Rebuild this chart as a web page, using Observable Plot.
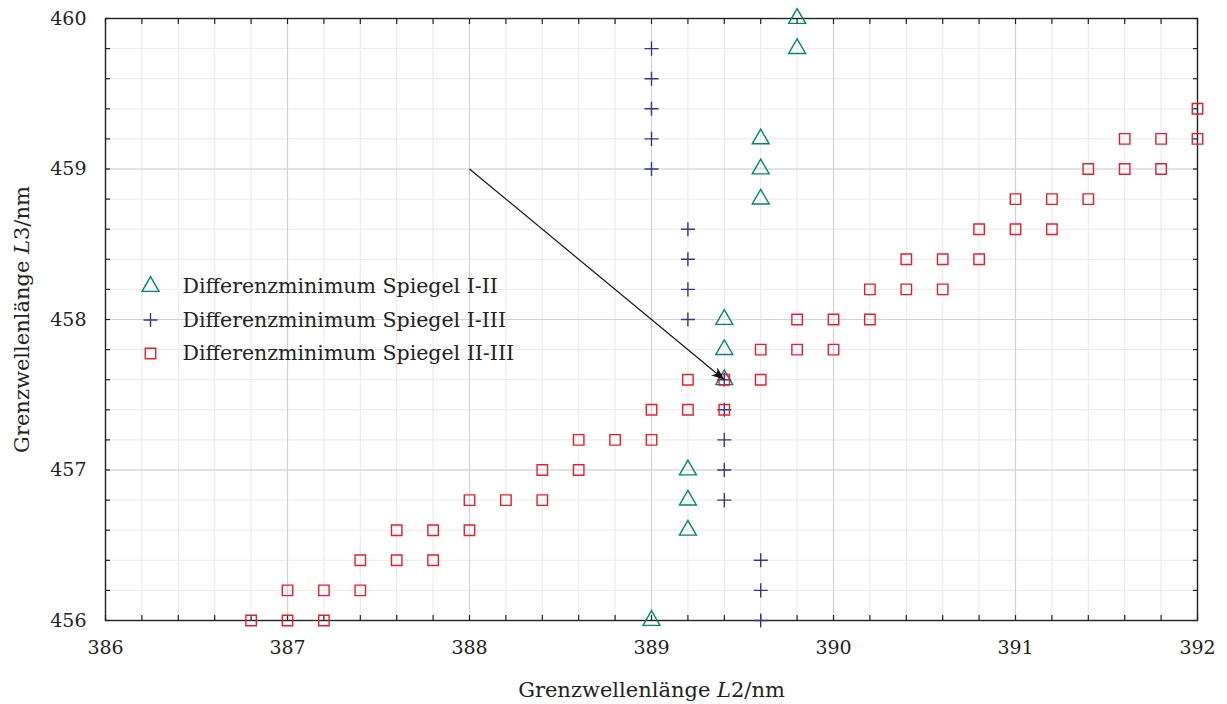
<!DOCTYPE html>
<html>
<head>
<meta charset="utf-8">
<script src="https://cdn.jsdelivr.net/npm/d3@7"></script>
<script src="https://cdn.jsdelivr.net/npm/@observablehq/plot@0.6"></script>
<style>
  html, body { margin: 0; padding: 0; background: #fff; }
  #chart svg { display: block; }
  #chart svg, #chart svg text { font-family: "DejaVu Serif", serif !important; }
</style>
</head>
<body>
<div id="chart"></div>
<script>
// Series labels
const seriesNames = [
  "Differenzminimum Spiegel I-II",
  "Differenzminimum Spiegel I-III",
  "Differenzminimum Spiegel II-III"
];

// Differenzminimum Spiegel I-II (L2 / L3 in nm)
const L2_I_II = [389.8, 389.8, 389.6, 389.6, 389.6, 389.4, 389.4, 389.4, 389.2, 389.2, 389.2, 389.0];
const L3_I_II = [460.0, 459.8, 459.2, 459.0, 458.8, 458.0, 457.8, 457.6, 457.0, 456.8, 456.6, 456.0];

// Differenzminimum Spiegel I-III
const L2_I_III = [389.0, 389.0, 389.0, 389.0, 389.0, 389.2, 389.2, 389.2, 389.2,
                  389.4, 389.4, 389.4, 389.4, 389.4, 389.6, 389.6, 389.6];
const L3_I_III = [459.8, 459.6, 459.4, 459.2, 459.0, 458.6, 458.4, 458.2, 458.0,
                  457.6, 457.4, 457.2, 457.0, 456.8, 456.4, 456.2, 456.0];

// Differenzminimum Spiegel II-III
const L2_II_III = [386.8, 387.0, 387.2, 387.0, 387.2, 387.4, 387.4, 387.6, 387.8,
                   387.6, 387.8, 388.0, 388.0, 388.2, 388.4, 388.4, 388.6, 388.6,
                   388.8, 389.0, 389.0, 389.2, 389.4, 389.2, 389.4, 389.6, 389.6,
                   389.8, 390.0, 389.8, 390.0, 390.2, 390.2, 390.4, 390.6, 390.4,
                   390.6, 390.8, 390.8, 391.0, 391.2, 391.0, 391.2, 391.4, 391.4,
                   391.6, 391.8, 391.6, 391.8, 392.0, 392.0];
const L3_II_III = [456.0, 456.0, 456.0, 456.2, 456.2, 456.2, 456.4, 456.4, 456.4,
                   456.6, 456.6, 456.6, 456.8, 456.8, 456.8, 457.0, 457.0, 457.2,
                   457.2, 457.2, 457.4, 457.4, 457.4, 457.6, 457.6, 457.6, 457.8,
                   457.8, 457.8, 458.0, 458.0, 458.0, 458.2, 458.2, 458.2, 458.4,
                   458.4, 458.4, 458.6, 458.6, 458.6, 458.8, 458.8, 458.8, 459.0,
                   459.0, 459.0, 459.2, 459.2, 459.2, 459.4];

// Annotation arrow (from / to, in data units)
const arrowFrom = [388.0, 459.0];
const arrowTo = [389.4, 457.6];

// Axis ticks
const xMajor = [386, 387, 388, 389, 390, 391, 392];
const yMajor = [456, 457, 458, 459, 460];
const xMinor = d3.range(0, 31).map(i => +(386 + i * 0.2).toFixed(1));
const yMinor = d3.range(0, 21).map(i => +(456 + i * 0.2).toFixed(1));

const xLabel = "Grenzwellenlänge L2/nm";
const yLabel = "Grenzwellenlänge L3/nm";

const colors = ["#00876c", "#34349a", "#ec1c2c"];
const symbols = ["triangle", "plus", "square"];
const radii = [6.3, 4.6, 5.9];

const toPoints = (xs, ys) => xs.map((x, i) => ({x, y: ys[i]}));
const seriesData = [
  toPoints(L2_I_II, L3_I_II),
  toPoints(L2_I_III, L3_I_III),
  toPoints(L2_II_III, L3_II_III)
];

// Filled, pointed arrowhead
function stealth(color) {
  const m = d3.create("svg:marker")
    .attr("viewBox", "-13 -6 14 12")
    .attr("markerWidth", 14)
    .attr("markerHeight", 12)
    .attr("markerUnits", "userSpaceOnUse")
    .attr("orient", "auto")
    .attr("fill", color)
    .attr("stroke", "none");
  m.append("path").attr("d", "M-13,-5L0,0L-13,5L-9.5,0Z");
  return m.node();
}

const tickFS = 19;
const legendFS = 20.5;
const titleFS = 21;

const legendMarks = seriesNames.flatMap((name, i) => [
  Plot.dot([name], {
    frameAnchor: "top-left", dx: 45, dy: 268 + i * 33.5,
    symbol: symbols[i], r: radii[i], stroke: colors[i], strokeWidth: 1.4, fill: "none"
  }),
  Plot.text([name], {
    frameAnchor: "top-left", dx: 77, dy: 268 + i * 33.5,
    textAnchor: "start", lineAnchor: "middle", fontSize: legendFS, fill: "#222"
  })
]);

const chart = Plot.plot({
  width: 1227,
  height: 704,
  marginLeft: 105,
  marginRight: 30,
  marginTop: 18,
  marginBottom: 84,
  x: {domain: [386, 392], label: null},
  y: {domain: [456, 460], label: null},
  style: {fontFamily: "DejaVu Serif, serif", fontSize: tickFS + "px", color: "#222", background: "#fff"},
  marks: [
    // minor and major grid
    Plot.gridX(xMinor, {stroke: "#e9e9e9", strokeOpacity: 1, strokeWidth: 1}),
    Plot.gridY(yMinor, {stroke: "#e9e9e9", strokeOpacity: 1, strokeWidth: 1}),
    Plot.gridX(xMajor, {stroke: "#d2d2d2", strokeOpacity: 1, strokeWidth: 1.2}),
    Plot.gridY(yMajor, {stroke: "#d2d2d2", strokeOpacity: 1, strokeWidth: 1.2}),
    // inward ticks on all four sides
    Plot.axisX(xMinor, {anchor: "bottom", tickSize: -5, tickFormat: () => "", stroke: "#222", strokeWidth: 1.2}),
    Plot.axisX(xMinor, {anchor: "top", tickSize: -5, tickFormat: () => "", stroke: "#222", strokeWidth: 1.2}),
    Plot.axisY(yMinor, {anchor: "left", tickSize: -5, tickFormat: () => "", stroke: "#222", strokeWidth: 1.2}),
    Plot.axisY(yMinor, {anchor: "right", tickSize: -5, tickFormat: () => "", stroke: "#222", strokeWidth: 1.2}),
    // tick labels
    Plot.axisX(xMajor, {anchor: "bottom", tickSize: 0, tickPadding: 20, tickFormat: d => String(d), fontSize: tickFS}),
    Plot.axisY(yMajor, {anchor: "left", tickSize: 0, tickPadding: 19, tickFormat: d => String(d), fontSize: tickFS}),
    Plot.frame({stroke: "#222", strokeWidth: 1.4}),
    // data
    ...seriesData.map((data, i) => Plot.dot(data, {
      x: "x", y: "y", symbol: () => symbols[i], r: radii[i],
      stroke: colors[i], strokeWidth: 1.4, fill: "none"
    })),
    // annotation arrow
    Plot.link([{x1: arrowFrom[0], y1: arrowFrom[1], x2: arrowTo[0], y2: arrowTo[1]}], {
      x1: "x1", y1: "y1", x2: "x2", y2: "y2", stroke: "#111", strokeWidth: 1.2, markerEnd: stealth
    }),
    // legend
    ...legendMarks,
    // axis titles
    Plot.text([xLabel], {frameAnchor: "bottom", dy: 70, textAnchor: "middle", lineAnchor: "middle", fontSize: titleFS, fill: "#222", className: "axis-title"}),
    Plot.text([yLabel], {frameAnchor: "left", dx: -83, rotate: -90, textAnchor: "middle", lineAnchor: "middle", fontSize: titleFS, fill: "#222", className: "axis-title"})
  ]
});

// Serif face on every label
d3.select(chart).selectAll("text").attr("font-family", "DejaVu Serif, serif");

// Italicise the variable names L2 / L3 in the axis titles
d3.select(chart).selectAll("g.axis-title text").each(function () {
  const t = d3.select(this);
  const s = t.text();
  const m = s.match(/^(.*\s)(L)(\d\/nm)$/);
  if (!m) return;
  t.text(null);
  t.append("tspan").text(m[1]);
  t.append("tspan").attr("font-style", "italic").text(m[2]);
  t.append("tspan").text(m[3]);
});

document.getElementById("chart").appendChild(chart);
</script>
</body>
</html>
